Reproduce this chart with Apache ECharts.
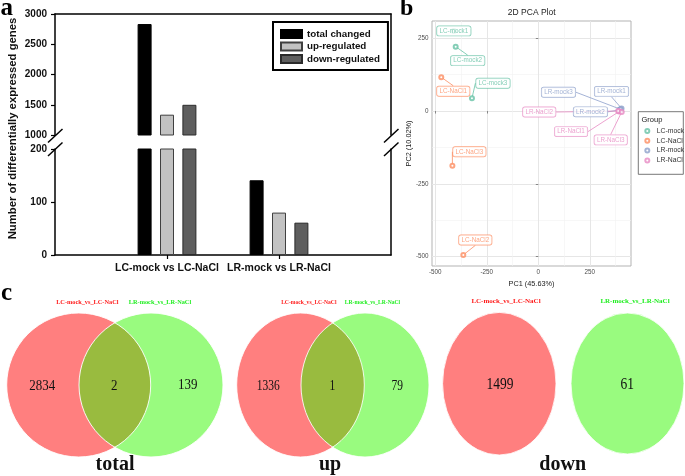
<!DOCTYPE html>
<html><head><meta charset="utf-8">
<script src="https://cdn.jsdelivr.net/npm/echarts@6/dist/echarts.min.js"></script>
<style>html,body{margin:0;padding:0;background:#fff}#c{width:685px;height:476px}</style>
</head><body><div id="c"></div>
<script>
// ---------- Panel a: bar chart data ----------
const barCategories = ['LC-mock vs LC-NaCl', 'LR-mock vs LR-NaCl'];
const barSeriesNames = ['total changed', 'up-regulated', 'down-regulated'];
const totalChanged = [2834, 141];
const upRegulated = [1336, 80];
const downRegulated = [1499, 61];
const upperYTicks = [1000, 3000, 500];   // min, max, step
const lowerYTicks = [0, 200, 100];
const yTitle = 'Number of differentially expressed genes';

// ---------- Panel b: PCA data ----------
const pcaGroups = ['LC-mock', 'LC-NaCl', 'LR-mock', 'LR-NaCl'];
const lcMockNames = ['LC-mock1', 'LC-mock2', 'LC-mock3'];
const lcMockPC1 = [-410, -401, -322];
const lcMockPC2 = [275, 221, 44];
const lcNaclNames = ['LC-NaCl1', 'LC-NaCl2', 'LC-NaCl3'];
const lcNaclPC1 = [-471, -364, -417];
const lcNaclPC2 = [116, -494, -188];
const lrMockNames = ['LR-mock1', 'LR-mock2', 'LR-mock3'];
const lrMockPC1 = [404, 394, 399];
const lrMockPC2 = [9, 4, 6];
const lrNaclNames = ['LR-NaCl1', 'LR-NaCl2', 'LR-NaCl3'];
const lrNaclPC1 = [392, 388, 405];
const lrNaclPC2 = [-2, 0, -3];
const pcaXTicks = [-500, -250, 0, 250];
const pcaYTicks = [-500, -250, 0, 250];
const pcaXMinor = [-375, -125, 125, 375];
const pcaYMinor = [-375, -125, 125];

// ---------- Panel c: Venn data ----------
const vennSets = ['LC-mock_vs_LC-NaCl', 'LR-mock_vs_LR-NaCl'];
const vennTotal = [2834, 2, 139];
const vennUp = [1336, 1, 79];
const vennDown = [1499, 61];
const vennCaptions = ['total', 'up', 'down'];

// ---------- styling / layout ----------
const SANS = 'Liberation Sans', SERIF = 'Liberation Serif';
const pcaColors = ['#66C2A5', '#FC8D62', '#8DA0CB', '#E78AC3'];
const barColors = [['#000000', '#000000'], ['#c2c2c2', '#404040'], ['#5e5e5e', '#2a2a2a']];

const chart = echarts.init(document.getElementById('c'), null, {renderer: 'canvas', width: 685, height: 476});
const padded = a => ['-', ...a, '-'];
const paddedCats = ['', ...barCategories, ''];

const series = [];
const barData = [totalChanged, upRegulated, downRegulated];
[0, 1].forEach(g => {
  barData.forEach((d, i) => {
    series.push({
      type: 'bar', name: barSeriesNames[i], xAxisIndex: g, yAxisIndex: g * 2,
      data: padded(d), barWidth: 14, barGap: '60%', silent: true,
      itemStyle: {color: barColors[i][0], borderColor: barColors[i][1], borderWidth: 1}
    });
  });
});

// PCA label offsets (layout only)
const pcaOffsets = [
  [[0, 0], [12, 14], [21, -15]],
  [[12, 14], [12, -15], [17, -14]],
  [[-10, -17], [-29, 2], [-62, -17]],
  [[-48, 20], [-79, 1], [-11, 28]]
];
const pcaSets = [
  [lcMockNames, lcMockPC1, lcMockPC2],
  [lcNaclNames, lcNaclPC1, lcNaclPC2],
  [lrMockNames, lrMockPC1, lrMockPC2],
  [lrNaclNames, lrNaclPC1, lrNaclPC2]
];
pcaSets.forEach((s, gi) => {
  const col = pcaColors[gi];
  series.push({
    type: 'scatter', name: pcaGroups[gi], xAxisIndex: 2, yAxisIndex: 4,
    symbol: 'emptyCircle', symbolSize: 4, silent: true,
    itemStyle: {color: col, borderWidth: 0.8},
    data: s[0].map((n, k) => {
      const item = {name: n, value: [s[1][k], s[2][k]]};
      if (pcaOffsets[gi][k][0] === 0 && pcaOffsets[gi][k][1] === 0) item.labelLine = {show: false};
      return item;
    }),
    label: {
      show: true, position: 'inside', formatter: '{b}', fontFamily: SANS, fontSize: 6.3,
      color: col, backgroundColor: '#fff', borderColor: col, borderWidth: 0.7, borderRadius: 2,
      padding: [1.5, 2.5, 1, 2.5], lineHeight: 7
    },
    labelLine: {show: true, lineStyle: {color: col, width: 0.8}},
    labelLayout: p => ({dx: pcaOffsets[gi][p.dataIndex][0], dy: pcaOffsets[gi][p.dataIndex][1]})
  });
});

// Venn layout (hidden pixel-like grid)
const vennLayout = [
  {circles: [[78.7, 385, 72, 72], [151, 385, 72, 72]], counts: [[42.3, 386], [114.3, 386], [187.7, 385.5]],
   countSize: 13, countScaleY: 1.12, titles: [[87.3, 302.3], [160, 302.3]], titleSize: 6.3, caption: [115, 465]},
  {circles: [[300.5, 385, 63.8, 72], [365, 385, 64, 72]], counts: [[268.3, 386.7], [332.3, 386.7], [397.3, 386.3]],
   countSize: 11.5, countScaleY: 1.2, titles: [[308.8, 302.5], [372.5, 302.5]], titleSize: 5.6, caption: [330, 465]},
  {circles: [[499.3, 383.7, 56.7, 71.3], [627.5, 383.5, 56.5, 70.5]], counts: [[500, 384], [627.3, 384]],
   countSize: 13.5, countScaleY: 1.3, titles: [[506, 301], [635, 301]], titleSize: 7, caption: [562.7, 465]}
];
const vennCounts = [vennTotal, vennUp, vennDown];
const vennFills = ['rgba(255,0,0,0.5)', 'rgba(52,248,0,0.5)'];
const vennTitleColors = ['#ff1a1a', '#22ee22'];

series.push({
  type: 'custom', xAxisIndex: 4, yAxisIndex: 6, silent: true, clip: false,
  data: vennLayout.map((v, i) => [i, 0]),
  renderItem: (params, api) => {
    const L = vennLayout[params.dataIndex];
    const counts = vennCounts[params.dataIndex];
    const ch = [];
    L.circles.forEach((c, k) => {
      const p = api.coord([c[0], c[1]]);
      const s = api.size([c[2], c[3]]);
      ch.push({type: 'circle', x: p[0], y: p[1], scaleX: Math.abs(s[0] / s[1]),
        shape: {cx: 0, cy: 0, r: Math.abs(s[1])}, style: {fill: vennFills[k], stroke: null}});
    });
    L.circles.forEach((c, k) => {
      const p = api.coord([c[0], c[1]]);
      const s = api.size([c[2], c[3]]);
      ch.push({type: 'circle', x: p[0], y: p[1], scaleX: Math.abs(s[0] / s[1]),
        shape: {cx: 0, cy: 0, r: Math.abs(s[1])},
        style: {fill: null, stroke: 'rgba(255,255,255,0.9)', lineWidth: 1, strokeNoScale: true}});
    });
    counts.forEach((v, k) => {
      const p = api.coord(L.counts[k]);
      ch.push({type: 'text', x: p[0], y: p[1], scaleY: L.countScaleY,
        style: {text: String(v), align: 'center', verticalAlign: 'middle', fontFamily: SERIF,
          fontSize: L.countSize, fill: '#111'}});
    });
    vennSets.forEach((n, k) => {
      const p = api.coord(L.titles[k]);
      ch.push({type: 'text', x: p[0], y: p[1],
        style: {text: n, align: 'center', verticalAlign: 'middle', fontFamily: SERIF, fontWeight: 'bold',
          fontSize: L.titleSize, fill: vennTitleColors[k]}});
    });
    const cp = api.coord(L.caption);
    ch.push({type: 'text', x: cp[0], y: cp[1],
      style: {text: vennCaptions[params.dataIndex], align: 'center', verticalAlign: 'middle',
        fontFamily: SERIF, fontWeight: 'bold', fontSize: 20, fill: '#111'}});
    return {type: 'group', children: ch};
  }
});

const axLine = {show: true, lineStyle: {color: '#000', width: 1.5}};
const tickLbl = {fontFamily: SANS, fontWeight: 'bold', fontSize: 10, color: '#111', margin: 8, formatter: v => String(v)};

const option = {
  animation: false,
  grid: [
    {left: 55, top: 14, width: 336, height: 121},
    {left: 55, top: 149, width: 336, height: 106},
    {left: 432, top: 21, width: 199, height: 245, show: true, borderColor: '#b3b3b3', borderWidth: 1, backgroundColor: '#fff'},
    {left: 0, top: 0, width: 685, height: 476}
  ],
  xAxis: [
    {type: 'category', gridIndex: 0, data: paddedCats, boundaryGap: false, position: 'top',
     axisLine: axLine, axisTick: {show: false}, axisLabel: {show: false}},
    {type: 'category', gridIndex: 1, data: paddedCats, boundaryGap: false, position: 'bottom',
     axisLine: axLine,
     axisTick: {show: true, interval: (i) => i === 1 || i === 2, length: 4, lineStyle: {color: '#000', width: 1.2}},
     axisLabel: {interval: 0, fontFamily: SANS, fontWeight: 'bold', fontSize: 10.5, color: '#111', margin: 8}},
    {type: 'value', gridIndex: 2, min: -516, max: 450, axisLine: {show: false},
     axisTick: {show: true, customValues: pcaXTicks, length: 2.5, lineStyle: {color: '#444', width: 0.6}},
     axisLabel: {customValues: pcaXTicks, fontFamily: SANS, fontSize: 6.3, color: '#4d4d4d', margin: 3.5},
     splitLine: {show: true, lineStyle: {color: '#e6e6e6', width: 1}},
     name: 'PC1 (45.63%)', nameLocation: 'middle', nameGap: 9,
     nameTextStyle: {fontFamily: SANS, fontSize: 7.3, color: '#222'}},
    {type: 'value', gridIndex: 2, min: -516, max: 450, position: 'top', axisLine: {show: false},
     axisTick: {show: false, customValues: pcaXMinor}, axisLabel: {show: false, customValues: pcaXMinor},
     splitLine: {show: true, lineStyle: {color: '#f2f2f2', width: 0.6}}},
    {type: 'value', gridIndex: 3, min: 0, max: 685, show: false}
  ],
  yAxis: [
    {type: 'value', gridIndex: 0, min: upperYTicks[0], max: upperYTicks[1], interval: upperYTicks[2],
     axisLine: axLine, axisTick: {show: true, length: 4, lineStyle: {color: '#000', width: 1.2}},
     axisLabel: tickLbl, splitLine: {show: false}},
    {type: 'value', gridIndex: 0, min: upperYTicks[0], max: upperYTicks[1], position: 'right',
     axisLine: axLine, axisTick: {show: false}, axisLabel: {show: false}, splitLine: {show: false}},
    {type: 'value', gridIndex: 1, min: lowerYTicks[0], max: lowerYTicks[1], interval: lowerYTicks[2],
     axisLine: axLine, axisTick: {show: true, length: 4, lineStyle: {color: '#000', width: 1.2}},
     axisLabel: tickLbl, splitLine: {show: false}},
    {type: 'value', gridIndex: 1, min: lowerYTicks[0], max: lowerYTicks[1], position: 'right',
     axisLine: axLine, axisTick: {show: false}, axisLabel: {show: false}, splitLine: {show: false}},
    {type: 'value', gridIndex: 2, min: -532, max: 309, axisLine: {show: false},
     axisTick: {show: true, customValues: pcaYTicks, length: 2.5, lineStyle: {color: '#444', width: 0.6}},
     axisLabel: {customValues: pcaYTicks, fontFamily: SANS, fontSize: 6.3, color: '#4d4d4d', margin: 3.5},
     splitLine: {show: true, lineStyle: {color: '#e6e6e6', width: 1}},
     name: 'PC2 (10.02%)', nameLocation: 'middle', nameGap: 15,
     nameTextStyle: {fontFamily: SANS, fontSize: 7.3, color: '#222'}},
    {type: 'value', gridIndex: 2, min: -532, max: 309, position: 'right', axisLine: {show: false},
     axisTick: {show: false, customValues: pcaYMinor}, axisLabel: {show: false, customValues: pcaYMinor},
     splitLine: {show: true, lineStyle: {color: '#f2f2f2', width: 0.6}}},
    {type: 'value', gridIndex: 3, min: 0, max: 476, inverse: true, show: false}
  ],
  legend: [
    {data: barSeriesNames, left: 273, top: 22, orient: 'vertical', itemWidth: 21, itemHeight: 8, itemGap: 0.5,
     padding: [6, 8, 5, 7], borderColor: '#000', borderWidth: 2, selectedMode: false, icon: 'rect',
     textStyle: {fontFamily: SANS, fontWeight: 'bold', fontSize: 9.8, color: '#111', lineHeight: 12}},
    {data: pcaGroups, left: 644.3, top: 127.5, orient: 'vertical', itemWidth: 6, itemHeight: 4, itemGap: 2.8,
     padding: 0, selectedMode: false, icon: 'emptyCircle', itemStyle: {borderWidth: 0.8},
     textStyle: {fontFamily: SANS, fontSize: 6.8, color: '#333', padding: [0, 0, 0, 1.5]}}
  ],
  graphic: [
    {type: 'text', x: 0.5, y: 8.5, style: {text: 'a', fontFamily: SERIF, fontWeight: 'bold', fontSize: 25, fill: '#000', verticalAlign: 'middle'}},
    {type: 'text', x: 400, y: 9, style: {text: 'b', fontFamily: SERIF, fontWeight: 'bold', fontSize: 24, fill: '#000', verticalAlign: 'middle'}},
    {type: 'text', x: 1, y: 293.5, style: {text: 'c', fontFamily: SERIF, fontWeight: 'bold', fontSize: 25, fill: '#000', verticalAlign: 'middle'}},
    {type: 'text', x: 12.5, y: 128.5, rotation: Math.PI / 2,
     style: {text: yTitle, fontFamily: SANS, fontWeight: 'bold', fontSize: 11.3, fill: '#111', align: 'center', verticalAlign: 'middle'}},
    {type: 'text', x: 531.7, y: 13, style: {text: '2D PCA Plot', fontFamily: SANS, fontSize: 8.5, fill: '#222', align: 'center', verticalAlign: 'middle'}},
    {type: 'rect', shape: {x: 638.3, y: 111.7, width: 45, height: 62.6}, style: {fill: null, stroke: '#555', lineWidth: 0.8}},
    {type: 'text', x: 641.5, y: 119.5, style: {text: 'Group', fontFamily: SANS, fontSize: 7.5, fill: '#222', verticalAlign: 'middle'}},
    // axis break marks
    {type: 'line', shape: {x1: 48, y1: 142.5, x2: 62.5, y2: 129}, style: {stroke: '#000', lineWidth: 1.5}},
    {type: 'line', shape: {x1: 48, y1: 156, x2: 62.5, y2: 142.5}, style: {stroke: '#000', lineWidth: 1.5}},
    {type: 'line', shape: {x1: 384, y1: 142.5, x2: 398.5, y2: 129}, style: {stroke: '#000', lineWidth: 1.5}},
    {type: 'line', shape: {x1: 384, y1: 156, x2: 398.5, y2: 142.5}, style: {stroke: '#000', lineWidth: 1.5}}
  ],
  series: series
};
chart.setOption(option);
</script></body></html>
